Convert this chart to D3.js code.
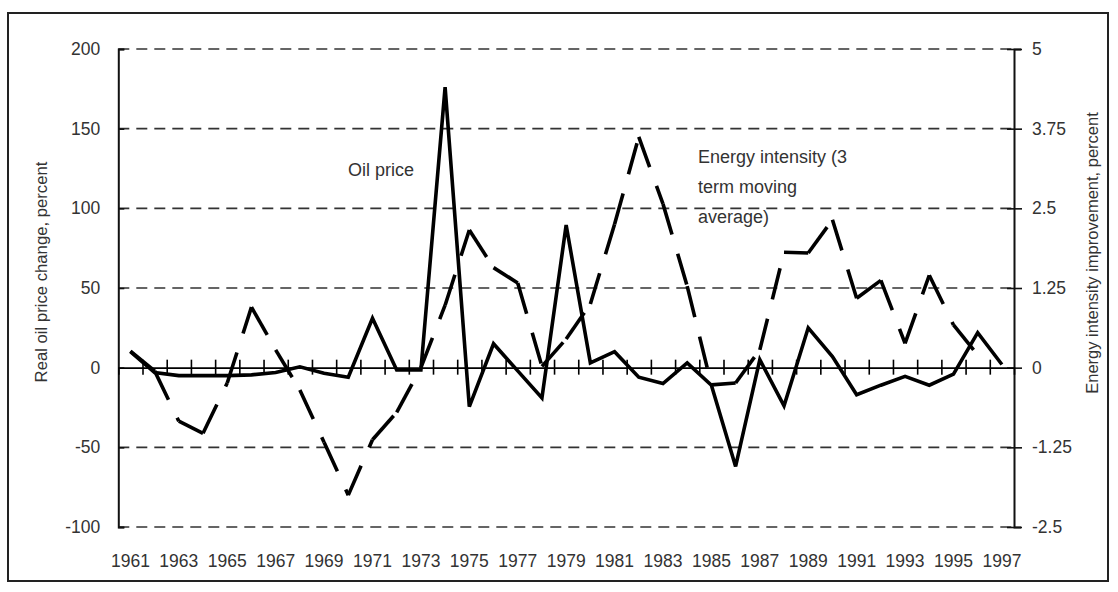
<!DOCTYPE html>
<html>
<head>
<meta charset="utf-8">
<script src="https://cdnjs.cloudflare.com/ajax/libs/d3/7.8.5/d3.min.js"></script>
<style>
  html, body { margin: 0; padding: 0; background: #fff; }
  svg { display: block; }
  text { font-family: "Liberation Sans", Arial, sans-serif; fill: #333; }
</style>
</head>
<body>
<svg id="chart" width="1118" height="592"></svg>
<script>
// ---- data ----
const years = [1961,1962,1963,1964,1965,1966,1967,1968,1969,1970,1971,1972,1973,1974,1975,1976,1977,1978,1979,
               1980,1981,1982,1983,1984,1985,1986,1987,1988,1989,1990,1991,1992,1993,1994,1995,1996,1997];
// Real oil price change, percent (left axis)
const oilPrice = [10,-3,-5,-5,-5,-4.5,-3,0.5,-3.5,-6,31,-1.5,-1.5,176,-24.5,15,-2,-19,89.5,
                  3,10,-6,-10,3,-11,-62,5,-24,25,7,-17,-11,-5.5,-11,-4,22,2];
// Energy intensity improvement, 3-term moving average, percent (right axis)
const energyIntensity = [0.26,-0.05,-0.84,-1.03,-0.24,0.95,0.28,-0.35,-1.17,-2.0,-1.13,-0.7,0.0,0.98,2.16,1.57,1.33,0.02,0.45,
                         1.0,2.25,3.62,2.57,1.28,-0.27,-0.24,0.28,1.81,1.8,2.32,1.09,1.37,0.38,1.45,0.67,0.2,null];
const leftTicks = [-100,-50,0,50,100,150,200];
const rightTicks = [-2.5,-1.25,0,1.25,2.5,3.75,5];
const xLabelYears = [1961,1963,1965,1967,1969,1971,1973,1975,1977,1979,1981,1983,1985,1987,1989,1991,1993,1995,1997];
const annotations = [
  {lines: ["Oil price"], x: 348, y: 176},
  {lines: ["Energy intensity (3", "term moving", "average)"], x: 698, y: 163}
];

// ---- layout ----
const svg = d3.select("#chart");
const L = 118.3, R = 1014, T = 49, B = 527;

const x = d3.scaleBand().domain(years).range([L, R]).padding(0);
const xb = d3.scaleLinear().domain([0, years.length]).range([L, R]);
const yL = d3.scaleLinear().domain([-100, 200]).range([B, T]);
const yR = d3.scaleLinear().domain([-2.5, 5]).range([B, T]);
const cx = d => x(d) + x.bandwidth() / 2;

// outer frame
svg.append("rect").attr("x", 8).attr("y", 13).attr("width", 1100).attr("height", 568)
  .attr("fill", "none").attr("stroke", "#222").attr("stroke-width", 2);

// gridlines (dashed), not at zero
svg.append("g").selectAll("line").data(leftTicks.filter(d => d !== 0)).join("line")
  .attr("x1", L).attr("x2", R).attr("y1", d => yL(d)).attr("y2", d => yL(d))
  .attr("stroke", "#333").attr("stroke-width", 1.6).attr("stroke-dasharray", "11,7");

// left axis
const gL = svg.append("g").attr("transform", `translate(${L},0)`)
  .call(d3.axisLeft(yL).tickValues(leftTicks).tickFormat(d => String(d)).tickSize(-6).tickPadding(18));
gL.select(".domain").attr("stroke", "#111").attr("stroke-width", 2);
gL.selectAll(".tick line").attr("stroke", "#111").attr("stroke-width", 1.6);
gL.selectAll(".tick text").style("font-size", "17.5px").attr("fill", "#333").attr("x", -18);

// right axis
const gR = svg.append("g").attr("transform", `translate(${R},0)`)
  .call(d3.axisRight(yR).tickValues(rightTicks).tickFormat(d => String(d)).tickSize(7).tickPadding(18));
gR.select(".domain").attr("stroke", "#111").attr("stroke-width", 2);
gR.selectAll(".tick line").attr("x1", -7).attr("x2", 8).attr("stroke", "#111").attr("stroke-width", 1.6);
gR.selectAll(".tick text").style("font-size", "17.5px").attr("fill", "#333").attr("x", 18);

// zero line with category boundary ticks
const g0 = svg.append("g").attr("transform", `translate(0,${yL(0)})`)
  .call(d3.axisBottom(xb).tickValues(d3.range(1, years.length)).tickSize(7).tickFormat(""));
g0.select(".domain").attr("stroke", "#000").attr("stroke-width", 1.6);
g0.selectAll(".tick line").attr("y1", -8).attr("y2", 7).attr("stroke", "#000").attr("stroke-width", 1.6);

// bottom year labels
const gB = svg.append("g").attr("transform", `translate(0,${B})`)
  .call(d3.axisBottom(x).tickValues(xLabelYears).tickSize(0));
gB.select(".domain").remove();
gB.selectAll(".tick text").style("font-size", "17.5px").attr("fill", "#333").attr("y", 40).attr("dy", 0);

// axis titles
svg.append("text").attr("transform", `translate(41,272) rotate(-90)`)
  .attr("text-anchor", "middle").attr("dy", "0.35em").style("font-size", "16.7px")
  .text("Real oil price change, percent");
svg.append("text").attr("transform", `translate(1092,253) rotate(-90)`)
  .attr("text-anchor", "middle").attr("dy", "0.35em").style("font-size", "16.5px")
  .text("Energy intensity improvement, percent");

// energy intensity: dashed, dash pattern restarts at every segment
const segLine = d3.line();
for (let i = 0; i < years.length - 1; i++) {
  const a = energyIntensity[i], b = energyIntensity[i + 1];
  if (a == null || b == null) continue;
  svg.append("path")
    .attr("d", segLine([[cx(years[i]), yR(a)], [cx(years[i + 1]), yR(b)]]))
    .attr("fill", "none").attr("stroke", "#000").attr("stroke-width", 3.6)
    .attr("stroke-dasharray", "32,20");
}

// oil price: solid
const oilLine = d3.line().x((d, i) => cx(years[i])).y(d => yL(d));
svg.append("path").datum(oilPrice).attr("d", oilLine)
  .attr("fill", "none").attr("stroke", "#000").attr("stroke-width", 3.6)
  .attr("stroke-linejoin", "miter").attr("stroke-miterlimit", 3);

// annotations
annotations.forEach(a => {
  const t = svg.append("text").attr("x", a.x).attr("y", a.y).style("font-size", "18px").attr("fill", "#444");
  a.lines.forEach((ln, i) => t.append("tspan").attr("x", a.x).attr("dy", i === 0 ? 0 : 30).text(ln));
});
</script>
</body>
</html>
